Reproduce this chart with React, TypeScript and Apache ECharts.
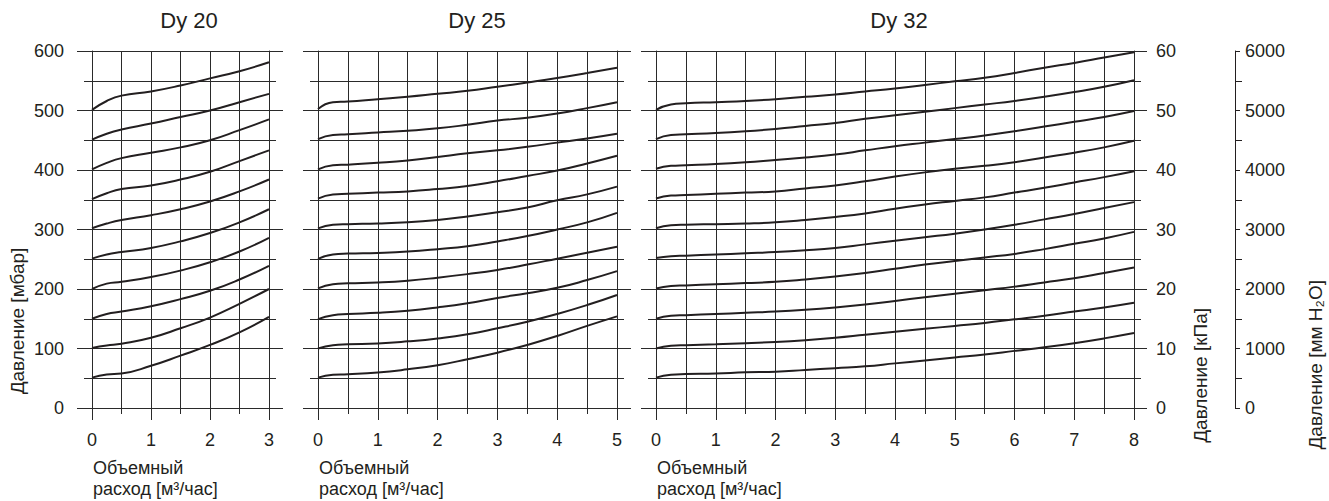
import React, { useEffect, useRef } from "react";
import * as echarts from "echarts";

// ---- Data ----
const pressureTicks = [0, 100, 200, 300, 400, 500, 600]; // mbar
const kpaTicks = [0, 10, 20, 30, 40, 50, 60];
const mmH2OTicks = [0, 1000, 2000, 3000, 4000, 5000, 6000];

const panelTitles = ["Dy 20", "Dy 25", "Dy 32"];
const panelXMax = [3, 5, 8];

const dy20X = [0, 0.25, 0.5, 1, 1.5, 2, 2.5, 3];
const dy20Curves = [
  [51, 56.5, 58, 71, 88, 106, 127, 153],
  [101, 105, 108, 118, 134, 152, 175, 200],
  [150, 158, 162, 171, 183, 197, 216, 239],
  [200, 209, 212, 220, 231, 245, 263, 286],
  [251, 258, 262, 269, 280, 294, 312, 334],
  [302, 310, 316, 324, 334, 347, 364, 384],
  [351, 361, 368, 374, 384, 397, 415, 433],
  [401, 412, 420, 429, 438, 450, 467, 485],
  [451, 461, 468, 478, 489, 500, 514, 528],
  [501, 516, 525, 532, 542, 554, 566, 581],
];

const dy25X = [0, 0.25, 0.5, 1, 1.5, 2, 2.5, 3, 3.5, 4, 4.5, 5];
const dy25Curves = [
  [51, 56, 56.7, 59.6, 65, 72, 82, 93, 106, 121, 138, 154],
  [100, 105.6, 107, 108.4, 112, 117, 124, 134, 145, 158, 173, 190],
  [149.4, 156, 158, 160, 163.5, 169, 176, 185, 193, 202, 215, 230],
  [201, 208, 209.5, 211, 214, 219, 225, 232, 241, 251, 261, 271],
  [250.6, 258, 259.5, 260.7, 263, 267, 272, 280, 289, 300, 312, 328],
  [302, 308, 309, 310, 312, 316, 322, 329, 337, 349, 359, 372],
  [352, 359, 360, 362, 364, 368, 373, 381, 390, 399, 411, 424],
  [401, 408, 409, 412, 416, 422, 428, 433, 439, 446, 453, 461],
  [452, 459, 460, 463, 466, 470, 476, 483, 488, 495, 504, 514],
  [502.5, 514, 515, 519, 523, 528, 533, 540, 547, 554.5, 563, 572],
];

const dy32X = [0, 0.25, 0.5, 1, 1.5, 2, 2.5, 3, 3.5, 4, 4.5, 5, 5.5, 6, 6.5, 7, 7.5, 8];
const dy32Curves = [
  [51, 56, 57, 58, 60, 61, 64, 67, 70, 75, 80, 85, 90, 96, 102, 109, 117, 126],
  [100, 104.5, 105.6, 107, 109, 111, 114, 118, 123, 128, 133, 138, 143, 149, 155, 162, 169, 177],
  [150, 155, 156, 158, 160, 162, 165, 169, 174, 180, 186, 192, 198, 204, 211, 218, 227, 236],
  [201, 205, 206, 208, 210, 212, 216, 221, 227, 234, 241, 247, 253, 259, 267, 276, 285, 296],
  [252, 255, 256, 258, 260, 262, 265, 269, 275, 281, 287, 293, 300, 308, 317, 326, 336, 346],
  [302, 307, 308, 309, 310, 312, 316, 321, 327, 335, 342, 348, 354, 362, 370, 379, 388, 398],
  [352, 357, 358, 360, 362, 364, 369, 374, 381, 389, 396, 402, 407, 413, 421, 429, 438, 449],
  [402, 407, 408, 410, 413, 417, 421, 426, 433, 440, 446, 452, 458, 465, 473, 481, 489, 499],
  [452, 459, 460, 462, 465, 469, 474, 479, 486, 492, 498, 504, 510, 516, 523, 531, 540, 551],
  [501, 510, 512, 514, 516, 519, 523, 527, 532, 537, 543, 549, 555, 563, 572, 580, 589, 598],
];

const xNameLine1 = "Объемный";
const xNameLine2 = "расход [м³/час]";
const yNameLeft = "Давление [мбар]";
const yNameKpa = "Давление [кПа]";
const yNameMm = "Давление [мм H₂O]";

// ---- Layout / style ----
const FONT = '"Liberation Sans", Arial, Helvetica, sans-serif';
const INK = "#231f20";
const GRIDC = "#2a2a2a";
const TOP = 51;
const HEIGHT = 357;
const panelLeft = [92, 318, 656];
const panelWidth = [177, 299, 478];
const titleX = [189, 477, 899];

export default function App() {
  const ref = useRef<HTMLDivElement>(null);

  useEffect(() => {
    if (!ref.current) return;
    const chart = echarts.init(ref.current, null, { renderer: "svg" });

    const lineStyle = { color: GRIDC, width: 1 };
    const panels = [
      { xs: dy20X, curves: dy20Curves },
      { xs: dy25X, curves: dy25Curves },
      { xs: dy32X, curves: dy32Curves },
    ];

    const grid: any[] = panels.map((_, i) => ({
      left: panelLeft[i],
      top: TOP,
      width: panelWidth[i],
      height: HEIGHT,
    }));
    grid.push({ left: 1235, top: TOP, width: 20, height: HEIGHT });

    const xAxis: any[] = panels.map((_, i) => ({
      type: "value",
      gridIndex: i,
      min: 0,
      max: panelXMax[i],
      interval: 1,
      axisLine: { show: true, lineStyle },
      axisTick: { show: true, length: 12, lineStyle },
      minorTick: { show: true, splitNumber: 2, length: 6, lineStyle },
      splitLine: { show: true, lineStyle },
      minorSplitLine: { show: true, lineStyle },
      axisLabel: { fontSize: 18, fontFamily: FONT, color: INK, margin: 23 },
    }));
    xAxis.push({ type: "value", gridIndex: 3, show: false, min: 0, max: 1 });

    const yAxis: any[] = [];
    const leftYIndex: number[] = [];
    panels.forEach((_, i) => {
      leftYIndex.push(yAxis.length);
      yAxis.push({
        type: "value",
        gridIndex: i,
        position: "left",
        min: pressureTicks[0],
        max: pressureTicks[pressureTicks.length - 1],
        interval: pressureTicks[1] - pressureTicks[0],
        axisLine: { show: true, lineStyle },
        axisTick: { show: true, length: 15, lineStyle },
        minorTick: { show: true, splitNumber: 2, length: 8, lineStyle },
        splitLine: { show: true, lineStyle },
        minorSplitLine: { show: true, lineStyle },
        axisLabel: {
          show: i === 0,
          fontSize: 18,
          fontFamily: FONT,
          color: INK,
          margin: 28,
        },
      });
      const isKpa = i === 2;
      yAxis.push({
        type: "value",
        gridIndex: i,
        position: "right",
        min: isKpa ? kpaTicks[0] : pressureTicks[0],
        max: isKpa ? kpaTicks[kpaTicks.length - 1] : pressureTicks[pressureTicks.length - 1],
        interval: isKpa ? kpaTicks[1] - kpaTicks[0] : pressureTicks[1] - pressureTicks[0],
        axisLine: { show: true, lineStyle },
        axisTick: { show: true, length: isKpa ? 13 : 14, lineStyle },
        minorTick: { show: true, splitNumber: 2, length: 7, lineStyle },
        splitLine: { show: false },
        axisLabel: {
          show: isKpa,
          fontSize: 18,
          fontFamily: FONT,
          color: INK,
          margin: 22,
        },
      });
    });
    yAxis.push({
      type: "value",
      gridIndex: 3,
      position: "left",
      min: mmH2OTicks[0],
      max: mmH2OTicks[mmH2OTicks.length - 1],
      interval: mmH2OTicks[1] - mmH2OTicks[0],
      axisLine: { show: true, lineStyle: { color: INK, width: 1 } },
      axisTick: { show: true, inside: true, length: 5, lineStyle: { color: INK, width: 1 } },
      minorTick: { show: true, splitNumber: 2, length: 7, lineStyle: { color: INK, width: 1 } },
      splitLine: { show: false },
      axisLabel: {
        inside: true,
        fontSize: 18,
        fontFamily: FONT,
        color: INK,
        margin: 10,
        formatter: (v: number) => String(v),
      },
    });

    const series: any[] = [];
    panels.forEach((p, i) => {
      p.curves.forEach((vals) => {
        series.push({
          type: "line",
          xAxisIndex: i,
          yAxisIndex: leftYIndex[i],
          data: p.xs.map((x, k) => [x, vals[k]]),
          smooth: 0.5,
          showSymbol: false,
          symbol: "none",
          silent: true,
          lineStyle: { color: INK, width: 2 },
        });
      });
    });

    const textStyle = (extra: any) => ({
      fill: INK,
      fontFamily: FONT,
      ...extra,
    });

    const graphic: any[] = [];
    panelTitles.forEach((t, i) => {
      graphic.push({
        type: "text",
        x: titleX[i],
        y: 20,
        style: textStyle({ text: t, fontSize: 22, align: "center", verticalAlign: "middle" }),
      });
      graphic.push({
        type: "text",
        x: panelLeft[i] + 1,
        y: 468,
        style: textStyle({ text: xNameLine1, fontSize: 18, align: "left", verticalAlign: "middle" }),
      });
      graphic.push({
        type: "text",
        x: panelLeft[i] + 1,
        y: 489,
        style: textStyle({ text: xNameLine2, fontSize: 18, align: "left", verticalAlign: "middle" }),
      });
    });
    graphic.push({
      type: "text",
      x: 17,
      y: 321,
      rotation: Math.PI / 2,
      style: textStyle({ text: yNameLeft, fontSize: 19, align: "center", verticalAlign: "middle" }),
    });
    graphic.push({
      type: "text",
      x: 1200,
      y: 308,
      rotation: Math.PI / 2,
      style: textStyle({ text: yNameKpa, fontSize: 19, align: "right", verticalAlign: "middle" }),
    });
    graphic.push({
      type: "text",
      x: 1315,
      y: 280,
      rotation: Math.PI / 2,
      style: textStyle({ text: yNameMm, fontSize: 19, align: "right", verticalAlign: "middle" }),
    });

    chart.setOption({
      animation: false,
      backgroundColor: "#ffffff",
      grid,
      xAxis,
      yAxis,
      series,
      graphic,
    });

    return () => chart.dispose();
  }, []);

  return (
    <div
      ref={ref}
      style={{ position: "absolute", left: 0, top: 0, width: 1329, height: 501, background: "#fff" }}
    />
  );
}
